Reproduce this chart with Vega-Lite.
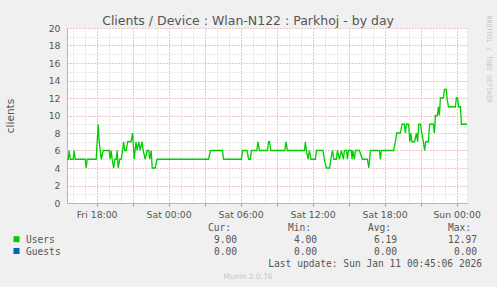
{
  "$schema": "https://vega.github.io/schema/vega-lite/v6.json",
  "width": 400,
  "height": 175,
  "autosize": {"type": "none"},
  "padding": {"left": 67, "top": 28, "right": 30, "bottom": 84},
  "background": "#f0f0f0",
  "config": {"view": {"fill": "#ffffff", "stroke": null}, "font": "DejaVu Sans"},
  "title": {"text": "Clients / Device : Wlan-N122 : Parkhoj - by day", "fontSize": 12.5, "fontWeight": "normal", "color": "#555555", "anchor": "middle", "frame": "bounds", "offset": -12},
  "datasets": {
    "users": [
      {"time": "2026-01-09T15:32", "users": 5},
      {"time": "2026-01-09T15:38", "users": 5},
      {"time": "2026-01-09T15:43", "users": 6},
      {"time": "2026-01-09T15:48", "users": 5},
      {"time": "2026-01-09T16:03", "users": 5},
      {"time": "2026-01-09T16:08", "users": 6},
      {"time": "2026-01-09T16:13", "users": 5},
      {"time": "2026-01-09T17:03", "users": 5},
      {"time": "2026-01-09T17:08", "users": 4},
      {"time": "2026-01-09T17:13", "users": 5},
      {"time": "2026-01-09T17:58", "users": 5},
      {"time": "2026-01-09T18:08", "users": 9},
      {"time": "2026-01-09T18:13", "users": 7},
      {"time": "2026-01-09T18:23", "users": 5},
      {"time": "2026-01-09T18:33", "users": 6},
      {"time": "2026-01-09T19:03", "users": 6},
      {"time": "2026-01-09T19:08", "users": 5},
      {"time": "2026-01-09T19:13", "users": 6},
      {"time": "2026-01-09T19:18", "users": 5},
      {"time": "2026-01-09T19:25", "users": 4},
      {"time": "2026-01-09T19:31", "users": 5},
      {"time": "2026-01-09T19:38", "users": 5},
      {"time": "2026-01-09T19:43", "users": 6},
      {"time": "2026-01-09T19:48", "users": 4},
      {"time": "2026-01-09T19:56", "users": 5},
      {"time": "2026-01-09T20:03", "users": 5},
      {"time": "2026-01-09T20:10", "users": 6},
      {"time": "2026-01-09T20:15", "users": 7},
      {"time": "2026-01-09T20:21", "users": 6},
      {"time": "2026-01-09T20:28", "users": 6},
      {"time": "2026-01-09T20:35", "users": 7},
      {"time": "2026-01-09T20:52", "users": 7},
      {"time": "2026-01-09T21:00", "users": 8},
      {"time": "2026-01-09T21:08", "users": 5},
      {"time": "2026-01-09T21:17", "users": 7},
      {"time": "2026-01-09T21:23", "users": 6},
      {"time": "2026-01-09T21:31", "users": 7},
      {"time": "2026-01-09T21:38", "users": 6},
      {"time": "2026-01-09T21:47", "users": 7},
      {"time": "2026-01-09T21:53", "users": 6},
      {"time": "2026-01-09T22:03", "users": 5},
      {"time": "2026-01-09T22:13", "users": 6},
      {"time": "2026-01-09T22:21", "users": 6},
      {"time": "2026-01-09T22:26", "users": 5},
      {"time": "2026-01-09T22:33", "users": 6},
      {"time": "2026-01-09T22:38", "users": 4},
      {"time": "2026-01-09T22:53", "users": 4},
      {"time": "2026-01-09T23:02", "users": 5},
      {"time": "2026-01-10T03:20", "users": 5},
      {"time": "2026-01-10T03:29", "users": 6},
      {"time": "2026-01-10T04:29", "users": 6},
      {"time": "2026-01-10T04:35", "users": 5},
      {"time": "2026-01-10T06:04", "users": 5},
      {"time": "2026-01-10T06:10", "users": 6},
      {"time": "2026-01-10T06:32", "users": 6},
      {"time": "2026-01-10T06:40", "users": 5},
      {"time": "2026-01-10T06:49", "users": 5},
      {"time": "2026-01-10T06:54", "users": 6},
      {"time": "2026-01-10T07:21", "users": 6},
      {"time": "2026-01-10T07:27", "users": 7},
      {"time": "2026-01-10T07:34", "users": 6},
      {"time": "2026-01-10T08:14", "users": 6},
      {"time": "2026-01-10T08:20", "users": 7},
      {"time": "2026-01-10T08:25", "users": 7},
      {"time": "2026-01-10T08:31", "users": 6},
      {"time": "2026-01-10T09:41", "users": 6},
      {"time": "2026-01-10T09:47", "users": 7},
      {"time": "2026-01-10T09:54", "users": 6},
      {"time": "2026-01-10T11:19", "users": 6},
      {"time": "2026-01-10T11:24", "users": 7},
      {"time": "2026-01-10T11:29", "users": 6},
      {"time": "2026-01-10T11:37", "users": 5},
      {"time": "2026-01-10T11:44", "users": 6},
      {"time": "2026-01-10T11:52", "users": 5},
      {"time": "2026-01-10T12:14", "users": 5},
      {"time": "2026-01-10T12:19", "users": 6},
      {"time": "2026-01-10T12:52", "users": 6},
      {"time": "2026-01-10T12:59", "users": 5},
      {"time": "2026-01-10T13:09", "users": 4},
      {"time": "2026-01-10T13:25", "users": 4},
      {"time": "2026-01-10T13:31", "users": 5},
      {"time": "2026-01-10T13:40", "users": 6},
      {"time": "2026-01-10T13:46", "users": 5},
      {"time": "2026-01-10T13:59", "users": 5},
      {"time": "2026-01-10T14:04", "users": 6},
      {"time": "2026-01-10T14:14", "users": 5},
      {"time": "2026-01-10T14:24", "users": 6},
      {"time": "2026-01-10T14:34", "users": 5},
      {"time": "2026-01-10T14:39", "users": 6},
      {"time": "2026-01-10T14:49", "users": 6},
      {"time": "2026-01-10T14:54", "users": 5},
      {"time": "2026-01-10T14:59", "users": 6},
      {"time": "2026-01-10T15:14", "users": 6},
      {"time": "2026-01-10T15:17", "users": 5},
      {"time": "2026-01-10T15:21", "users": 6},
      {"time": "2026-01-10T15:29", "users": 5},
      {"time": "2026-01-10T15:34", "users": 6},
      {"time": "2026-01-10T15:54", "users": 6},
      {"time": "2026-01-10T16:09", "users": 5},
      {"time": "2026-01-10T16:34", "users": 5},
      {"time": "2026-01-10T16:41", "users": 4},
      {"time": "2026-01-10T16:49", "users": 6},
      {"time": "2026-01-10T17:34", "users": 6},
      {"time": "2026-01-10T17:39", "users": 5},
      {"time": "2026-01-10T17:44", "users": 6},
      {"time": "2026-01-10T18:45", "users": 6},
      {"time": "2026-01-10T18:54", "users": 7},
      {"time": "2026-01-10T19:01", "users": 8},
      {"time": "2026-01-10T19:19", "users": 8},
      {"time": "2026-01-10T19:27", "users": 9},
      {"time": "2026-01-10T19:39", "users": 9},
      {"time": "2026-01-10T19:44", "users": 8},
      {"time": "2026-01-10T19:49", "users": 9},
      {"time": "2026-01-10T20:00", "users": 9},
      {"time": "2026-01-10T20:06", "users": 7},
      {"time": "2026-01-10T20:11", "users": 8},
      {"time": "2026-01-10T20:17", "users": 7},
      {"time": "2026-01-10T20:30", "users": 7},
      {"time": "2026-01-10T20:39", "users": 8},
      {"time": "2026-01-10T20:45", "users": 7},
      {"time": "2026-01-10T20:51", "users": 9},
      {"time": "2026-01-10T20:59", "users": 9},
      {"time": "2026-01-10T21:06", "users": 8},
      {"time": "2026-01-10T21:14", "users": 7},
      {"time": "2026-01-10T21:20", "users": 6},
      {"time": "2026-01-10T21:26", "users": 7},
      {"time": "2026-01-10T21:39", "users": 7},
      {"time": "2026-01-10T21:45", "users": 9},
      {"time": "2026-01-10T22:04", "users": 9},
      {"time": "2026-01-10T22:09", "users": 8},
      {"time": "2026-01-10T22:14", "users": 10},
      {"time": "2026-01-10T22:24", "users": 10},
      {"time": "2026-01-10T22:29", "users": 11},
      {"time": "2026-01-10T22:34", "users": 10},
      {"time": "2026-01-10T22:39", "users": 12},
      {"time": "2026-01-10T22:54", "users": 12},
      {"time": "2026-01-10T22:59", "users": 12.97},
      {"time": "2026-01-10T23:09", "users": 12.97},
      {"time": "2026-01-10T23:12", "users": 12},
      {"time": "2026-01-10T23:19", "users": 11},
      {"time": "2026-01-10T23:54", "users": 11},
      {"time": "2026-01-10T23:59", "users": 12},
      {"time": "2026-01-11T00:05", "users": 12},
      {"time": "2026-01-11T00:10", "users": 11},
      {"time": "2026-01-11T00:19", "users": 11},
      {"time": "2026-01-11T00:24", "users": 9},
      {"time": "2026-01-11T00:52", "users": 9}
    ],
    "legend": [
      {"kind": "hdr", "row": "hdr", "col": 1, "text": "Cur:"},
      {"kind": "hdr", "row": "hdr", "col": 2, "text": "Min:"},
      {"kind": "hdr", "row": "hdr", "col": 3, "text": "Avg:"},
      {"kind": "hdr", "row": "hdr", "col": 4, "text": "Max:"},
      {"kind": "name", "row": "Users", "col": 0, "text": "Users"},
      {"kind": "name", "row": "Guests", "col": 0, "text": "Guests"},
      {"kind": "val", "row": "Users", "col": 1, "text": "9.00"},
      {"kind": "val", "row": "Users", "col": 2, "text": "4.00"},
      {"kind": "val", "row": "Users", "col": 3, "text": "6.19"},
      {"kind": "val", "row": "Users", "col": 4, "text": "12.97"},
      {"kind": "val", "row": "Guests", "col": 1, "text": "0.00"},
      {"kind": "val", "row": "Guests", "col": 2, "text": "0.00"},
      {"kind": "val", "row": "Guests", "col": 3, "text": "0.00"},
      {"kind": "val", "row": "Guests", "col": 4, "text": "0.00"},
      {"kind": "update", "row": "update", "col": 4, "text": "Last update: Sun Jan 11 00:45:06 2026"},
      {"kind": "munin", "row": "munin", "col": 1, "text": "Munin 2.0.76"}
    ]
  },
  "layer": [
    {
      "data": {"name": "users"},
      "layer": [
        {
          "mark": {"type": "line", "opacity": 0},
          "encoding": {
            "x": {
              "field": "time", "type": "temporal",
              "axis": {"orient": "top", "title": null, "tickCount": 34, "labels": false, "ticks": false, "domain": false, "grid": true, "gridDash": [1, 2], "gridColor": "#d0d0d0"}
            },
            "y": {
              "field": "users", "type": "quantitative",
              "axis": {
                "orient": "right",
                "values": [0,1,2,3,4,5,6,7,8,9,10,11,12,13,14,15,16,17,18,19,20],
                "labels": false, "ticks": false, "domain": false,
                "grid": true, "gridDash": [1, 2], "gridColor": "#d0d0d0",
                "title": "RRDTOOL / TOBI OETIKER",
                "titleAngle": 90,
                "titleFont": "DejaVu Sans Mono",
                "titleFontSize": 6.6,
                "titleFontWeight": "normal",
                "titleColor": "#c4c4c4",
                "titleAlign": "left",
                "titleBaseline": "middle",
                "titleX": 21,
                "titleY": -13
              }
            }
          }
        },
        {
          "mark": {"type": "line", "color": "#00cc00", "strokeWidth": 1.3, "clip": true},
          "encoding": {
            "x": {
              "field": "time", "type": "temporal",
              "scale": {"domain": [{"year": 2026, "month": 1, "date": 9, "hours": 15, "minutes": 32}, {"year": 2026, "month": 1, "date": 11, "hours": 0, "minutes": 52}], "nice": false},
              "axis": {
                "orient": "bottom",
                "title": null,
                "tickCount": 8,
                "labelExpr": "hours(datum.value) % 6 === 0 ? timeFormat(datum.value, '%a %H:%M') : ''",
                "labelOverlap": false,
                "labelFontSize": 9.3,
                "labelColor": "#555555",
                "labelPadding": 4,
                "grid": true,
                "gridDash": [1, 2],
                "gridColor": "#eca4a4",
                "ticks": true,
                "tickSize": 3,
                "tickColor": "#ee7070",
                "domainColor": "#aab4f4"
              }
            },
            "y": {
              "field": "users", "type": "quantitative",
              "scale": {"domain": [0, 20], "nice": false},
              "axis": {
                "orient": "left",
                "title": "clients",
                "titleFontSize": 10.5,
                "titleFontWeight": "normal",
                "titleColor": "#555555",
                "titlePadding": 33,
                "values": [0,2,4,6,8,10,12,14,16,18,20],
                "labelFontSize": 9.3,
                "labelColor": "#555555",
                "labelPadding": 7,
                "ticks": false,
                "grid": true,
                "gridDash": [1, 2],
                "gridColor": "#eca4a4",
                "domainColor": "#aab4f4"
              }
            }
          }
        }
      ],
      "resolve": {"axis": {"x": "independent", "y": "independent"}}
    },
    {
      "data": {"name": "legend"},
      "encoding": {
        "x": {"field": "col", "type": "quantitative", "scale": {"domain": [0, 4], "range": [90, 410]}, "axis": null},
        "y": {"field": "row", "type": "nominal", "scale": {"type": "point", "domain": ["hdr", "Users", "Guests", "update", "munin"], "range": [203.4, 250.6], "padding": 0}, "axis": null}
      },
      "layer": [
        {
          "transform": [{"filter": "datum.kind === 'hdr'"}],
          "mark": {"type": "text", "align": "right", "baseline": "alphabetic", "dx": -6, "font": "DejaVu Sans Mono", "fontSize": 9.6, "color": "#555555"},
          "encoding": {"text": {"field": "text"}}
        },
        {
          "transform": [{"filter": "datum.kind === 'val'"}],
          "mark": {"type": "text", "align": "right", "baseline": "alphabetic", "font": "DejaVu Sans Mono", "fontSize": 9.6, "color": "#555555"},
          "encoding": {"text": {"field": "text"}}
        },
        {
          "transform": [{"filter": "datum.kind === 'name'"}],
          "mark": {"type": "text", "align": "left", "baseline": "alphabetic", "dx": -131, "font": "DejaVu Sans Mono", "fontSize": 9.6, "color": "#555555"},
          "encoding": {"text": {"field": "text"}}
        },
        {
          "transform": [{"filter": "datum.kind === 'name'"}],
          "mark": {"type": "point", "shape": "square", "filled": true, "size": 36, "opacity": 1, "xOffset": -140.5, "yOffset": -4},
          "encoding": {"color": {"field": "row", "type": "nominal", "scale": {"domain": ["Users", "Guests"], "range": ["#00cc00", "#0066b3"]}, "legend": null}}
        },
        {
          "transform": [{"filter": "datum.kind === 'update'"}],
          "mark": {"type": "text", "align": "right", "baseline": "alphabetic", "dx": 5, "font": "DejaVu Sans Mono", "fontSize": 9.6, "color": "#555555"},
          "encoding": {"text": {"field": "text"}}
        },
        {
          "transform": [{"filter": "datum.kind === 'munin'"}],
          "mark": {"type": "text", "align": "center", "baseline": "alphabetic", "dx": 11, "font": "DejaVu Sans", "fontSize": 7.5, "color": "#c4c4c4"},
          "encoding": {"text": {"field": "text"}}
        }
      ]
    }
  ],
  "resolve": {"scale": {"x": "independent", "y": "independent"}}
}
